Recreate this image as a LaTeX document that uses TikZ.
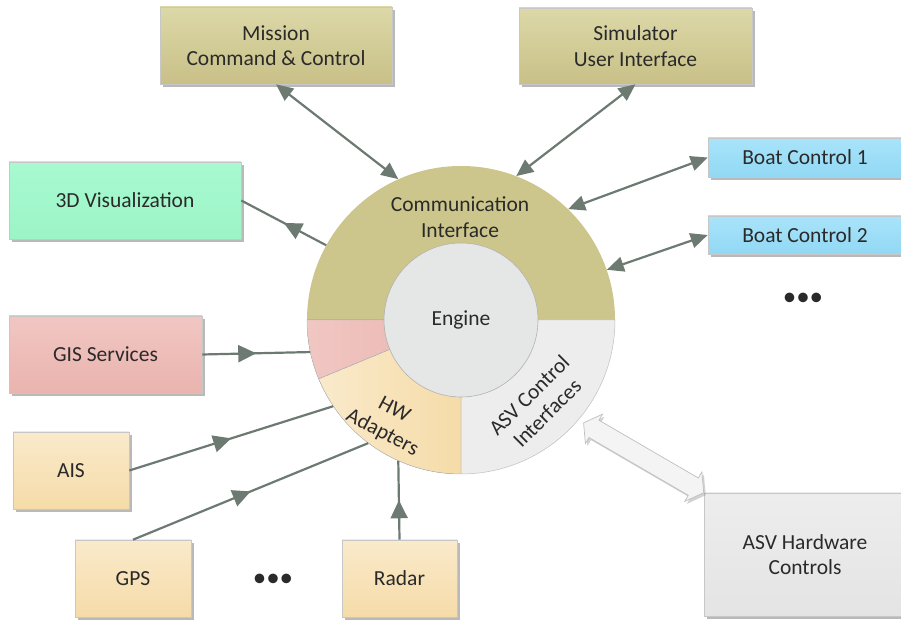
\documentclass[tikz,border=0pt]{standalone}
\usepackage{fontspec}
\setmainfont{Carlito}
\usetikzlibrary{arrows.meta,shadows,decorations.markings,calc}
\definecolor{txt}{HTML}{2A2A2A}
\definecolor{lnk}{HTML}{6C7A72}
\definecolor{oliveT}{HTML}{DCD8A8}
\definecolor{oliveB}{HTML}{C8C087}
\definecolor{mintT}{HTML}{A8F9D0}
\definecolor{mintB}{HTML}{9CF5C6}
\definecolor{blueT}{HTML}{A8E4FA}
\definecolor{blueB}{HTML}{92D8F4}
\definecolor{pinkT}{HTML}{F1C7C3}
\definecolor{pinkB}{HTML}{EAB3AE}
\definecolor{yelT}{HTML}{FAEACB}
\definecolor{yelB}{HTML}{F5DBA8}
\definecolor{grayT}{HTML}{EDEDED}
\definecolor{grayB}{HTML}{E4E4E4}
\definecolor{commc}{HTML}{CDC68C}
\definecolor{engc}{HTML}{E5E6E6}
\newcommand{\bx}{\fontsize{21.5}{25.5}\selectfont}
\tikzset{
  box/.style={rectangle, draw=black!22, line width=0.6pt, inner sep=2pt,
    align=center, font=\bx, text=txt,
    drop shadow={shadow xshift=3pt, shadow yshift=-3.5pt, fill=black!50, opacity=0.55}},
  olivebox/.style={box, top color=oliveT, bottom color=oliveB},
  mintbox/.style={box, top color=mintT, bottom color=mintB},
  bluebox/.style={box, top color=blueT, bottom color=blueB},
  pinkbox/.style={box, top color=pinkT, bottom color=pinkB},
  yelbox/.style={box, top color=yelT, bottom color=yelB},
  graybox/.style={box, top color=grayT, bottom color=grayB},
  con/.style={draw=lnk, line width=2.2pt},
  bi/.style={con, {Triangle[length=17pt,width=15pt]}-{Triangle[length=17pt,width=15pt]}},
  mid/.style={con, postaction={decorate},
    decoration={markings, mark=at position #1 with {\arrow[color=lnk]{Triangle[length=18pt,width=17pt]}}}},
  lbl/.style={font=\bx, text=txt, align=center, inner sep=0pt},
  sector/.style={draw=black!25, line width=0.5pt}
}
\begin{document}
\begin{tikzpicture}[x=1pt,y=1pt]
\useasboundingbox (0,0) rectangle (901,620);

% ring sectors
\fill[commc] (461,300) -- ++(0:154) arc[start angle=0,end angle=180,radius=154] -- cycle;
\filldraw[sector, left color=pinkT, right color=pinkB] (461,300) -- ++(180:154) arc[start angle=180,end angle=202.5,radius=154] -- cycle;
\filldraw[sector, left color=yelT, right color=yelB] (461,300) -- ++(202.5:154) arc[start angle=202.5,end angle=270,radius=154] -- cycle;
\filldraw[sector, fill=grayT] (461,300) -- ++(270:154) arc[start angle=270,end angle=360,radius=154] -- cycle;
\node[circle, minimum size=308pt, inner sep=0pt] (ring) at (461,300) {};
\node[circle, minimum size=154pt, inner sep=0pt, fill=engc, draw=black!30, line width=0.6pt, font=\bx, text=txt] (engine) at (461,300) {Engine};

\node[lbl] (commtxt) at (460,403) {Communication\\Interface};
\node[lbl, rotate=-28] (hwtxt) at (388,198) {HW\\Adapters};
\node[lbl, rotate=45] (asvtxt) at (538,216) {ASV Control\\Interfaces};

% boxes
\node[olivebox, minimum width=232pt, minimum height=77pt] (mission) at (276,574.5) {Mission\\Command \& Control};
\node[olivebox, minimum width=233pt, minimum height=76pt] (sim) at (635.5,574) {Simulator\\User Interface};
\node[mintbox, minimum width=232pt, minimum height=77pt] (viz) at (125,419.5) {3D Visualization};
\node[bluebox, minimum width=194pt, minimum height=39pt] (boat1) at (805,462.5) {Boat Control 1};
\node[bluebox, minimum width=194pt, minimum height=38pt] (boat2) at (805,385) {Boat Control 2};
\node[pinkbox, minimum width=193pt, minimum height=77pt] (gis) at (105.5,265.5) {GIS Services};
\node[yelbox, minimum width=116pt, minimum height=77pt] (ais) at (71,149.5) {AIS};
\node[yelbox, minimum width=116pt, minimum height=77pt] (gps) at (133,41.5) {GPS};
\node[yelbox, minimum width=115pt, minimum height=77pt] (radar) at (399.5,41.5) {Radar};
\node[graybox, minimum width=202pt, minimum height=123pt] (asvhw) at (805,65.5) {ASV Hardware\\Controls};

\node[lbl, font=\fontsize{27}{27}\selectfont] (dots1) at (803,321) {•••};
\node[lbl, font=\fontsize{27}{27}\selectfont] (dots2) at (273,40) {•••};

% connectors
\draw[bi] (mission.south) -- (ring.114.9);
\draw[bi] (sim.south) -- (ring.69.3);
\draw[bi] (boat1.west) -- (ring.46.1);
\draw[bi] (boat2.west) -- (ring.19.6);
\draw[mid=0.5] (ring.151.4) -- (viz.east);
\draw[mid=0.5] (gis.east) -- (ring.192.2);
\draw[mid=0.5] (ais.east) -- (ring.214.5);
\draw[mid=0.5] (gps.north) -- (ring.233.4);
\draw[mid=0.5] (radar.north) -- (ring.246.6);

% big hollow double arrow
\filldraw[fill=grayT!60!white, draw=black!25, line width=0.7pt,
  drop shadow={shadow xshift=2pt, shadow yshift=-2.5pt, fill=black!40, opacity=0.45}]
  let \p1=($(ring.center)!160pt!(ring.-40.5)$), \p2=(asvhw.north west),
      \n1={atan2(\y2-\y1,\x2-\x1)}, \n2={veclen(\x2-\x1,\y2-\y1)} in
  [shift={(\p1)}, rotate=\n1]
  (0,0) -- (12,17) -- (12,10) -- ({\n2-12},10) -- ({\n2-12},17) -- (\n2,0)
  -- ({\n2-12},-17) -- ({\n2-12},-10) -- (12,-10) -- (12,-17) -- cycle;
\end{tikzpicture}
\end{document}
